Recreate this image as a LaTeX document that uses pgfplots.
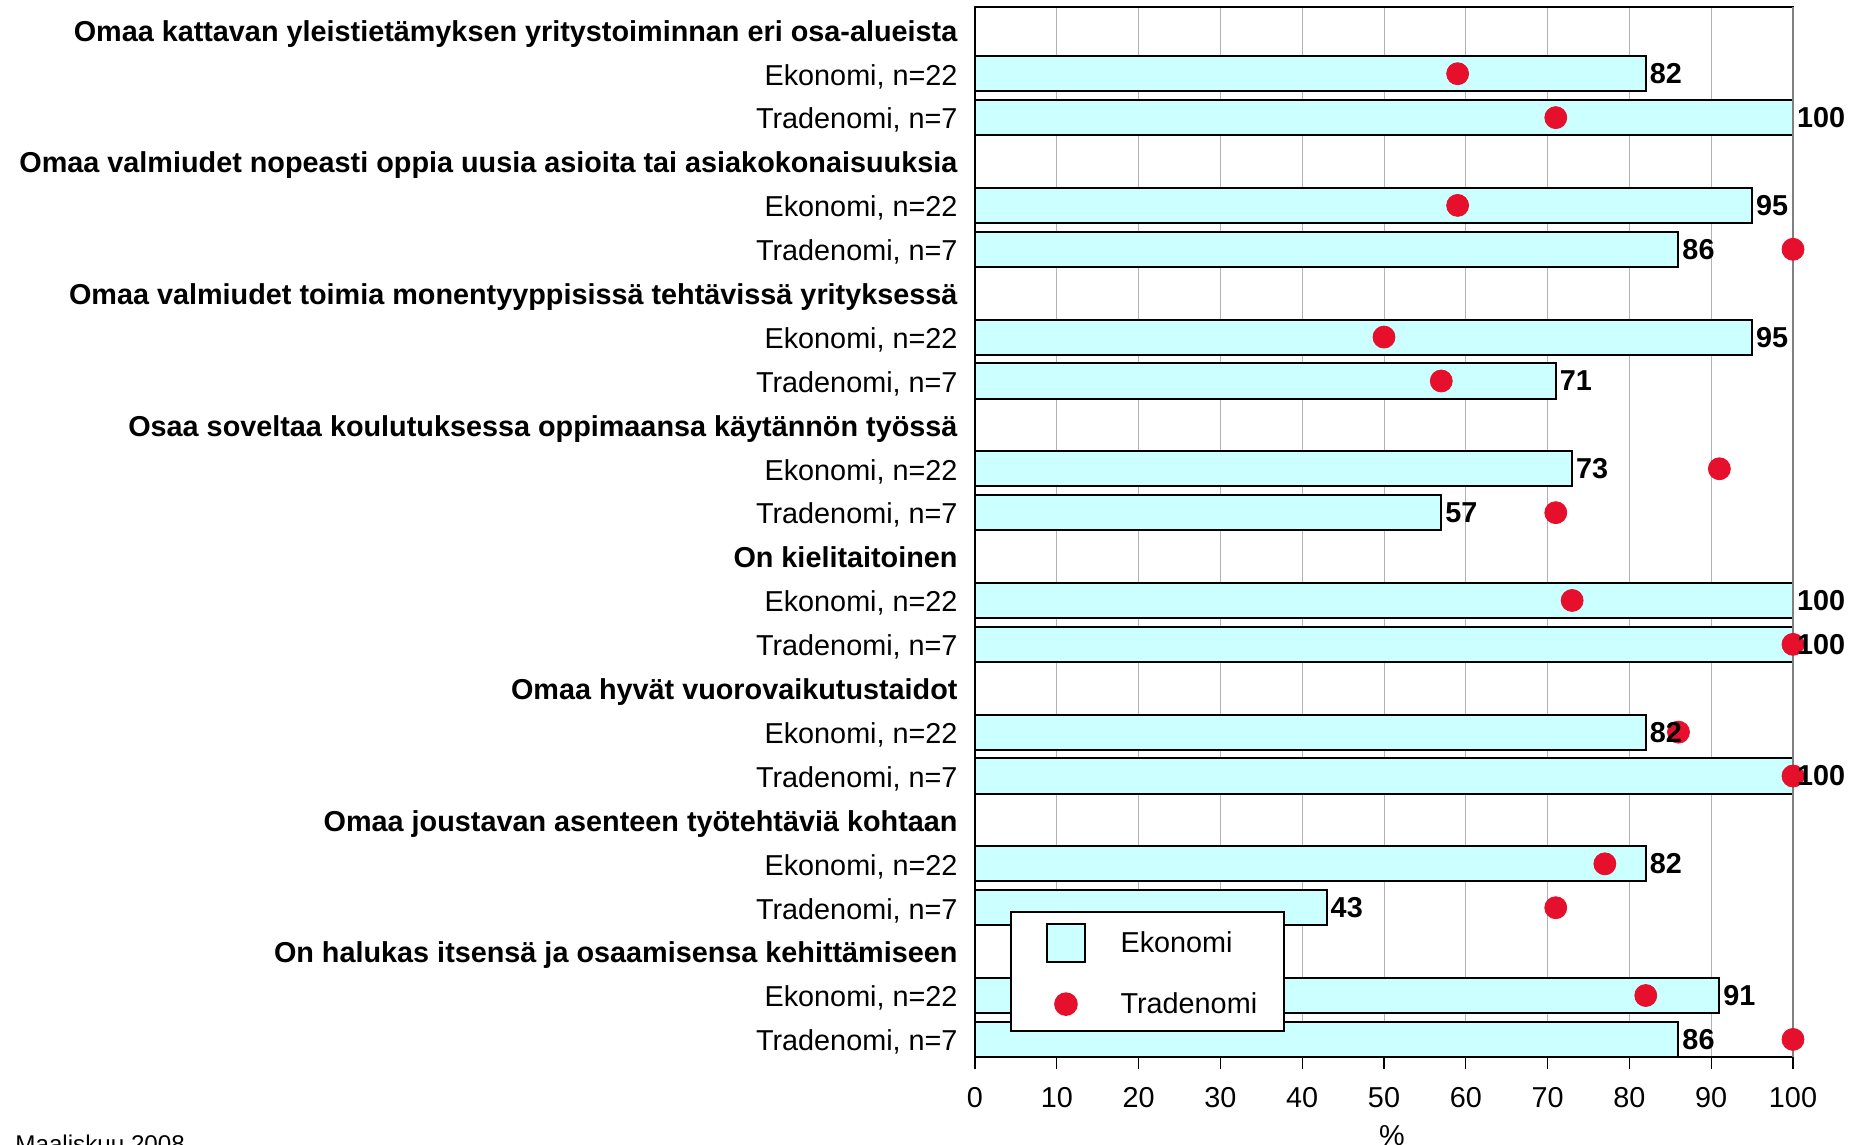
\documentclass[border=0pt]{standalone}
\usepackage{pgfplots}
\pgfplotsset{compat=1.18}
\usepackage{fontspec}
\setmainfont{Liberation Sans}
\definecolor{barfill}{HTML}{CCFFFF}
\definecolor{dotred}{HTML}{E6102D}
\begin{document}
\begin{tikzpicture}[x=0.5pt,y=0.5pt,font=\fontsize{14.4}{17}\selectfont]
\useasboundingbox (0,0) rectangle (1863,1145);
\begin{axis}[
  at={(487.5pt,43.8pt)}, anchor=south west,
  scale only axis, width=409pt, height=525.2pt,
  xmin=0, xmax=100, ymin=-0.52, ymax=23.41, y dir=reverse,
  clip=false,
  xtick={0,10,...,100},
  ytick={0,...,23},
  yticklabels={
    {\textbf{Omaa kattavan yleistietämyksen yritystoiminnan eri osa-alueista}},
    {Ekonomi, n=22},{Tradenomi, n=7},
    {\textbf{Omaa valmiudet nopeasti oppia uusia asioita tai asiakokonaisuuksia}},
    {Ekonomi, n=22},{Tradenomi, n=7},
    {\textbf{Omaa valmiudet toimia monentyyppisissä tehtävissä yrityksessä}},
    {Ekonomi, n=22},{Tradenomi, n=7},
    {\textbf{Osaa soveltaa koulutuksessa oppimaansa käytännön työssä}},
    {Ekonomi, n=22},{Tradenomi, n=7},
    {\textbf{On kielitaitoinen}},
    {Ekonomi, n=22},{Tradenomi, n=7},
    {\textbf{Omaa hyvät vuorovaikutustaidot}},
    {Ekonomi, n=22},{Tradenomi, n=7},
    {\textbf{Omaa joustavan asenteen työtehtäviä kohtaan}},
    {Ekonomi, n=22},{Tradenomi, n=7},
    {\textbf{On halukas itsensä ja osaamisensa kehittämiseen}},
    {Ekonomi, n=22},{Tradenomi, n=7}},
  xmajorgrids,
  major grid style={gray!60, line width=0.5pt},
  axis line style={black, line width=1pt},
  tick align=outside,
  xtick pos=lower,
  major tick length=6pt,
  x tick style={black, line width=0.6pt},
  y tick style={draw=none},
  yticklabel style={xshift=0.8pt, text height=10.3pt, text depth=0pt, yshift=-0.5pt},
  xticklabel style={yshift=-5.4pt},
  /pgf/number format/assume math mode=true,
  ticklabel style={font=\fontsize{14.4}{17}\selectfont},
  legend style={at={(0.043,0.139)}, anchor=north west, draw=black, line width=0.8pt,
    fill=white, inner xsep=11.5pt, inner ysep=5.5pt, row sep=12.5pt, column sep=15.3pt,
    font=\fontsize{14.4}{17}\selectfont, cells={anchor=west}},
]
\addplot[xbar, bar width=0.8, bar shift=0pt, fill=barfill, draw=black, line width=1pt,
  legend image code/.code={\path (0pt,0pt); \draw[fill=barfill, draw=black, line width=1pt] (6pt,-9.5pt) rectangle (25pt,9.5pt);}]
coordinates {(82,1) (100,2) (95,4) (86,5) (95,7) (71,8) (73,10) (57,11) (100,13) (100,14) (82,16) (100,17) (82,19) (43,20) (91,22) (86,23)};
\addlegendentry{Ekonomi}
\draw[gray, line width=1pt] (axis cs:100,-0.52) -- (axis cs:100,23.41);
\addplot[only marks, mark=*, mark size=5.5pt, color=dotred, fill=dotred,
  legend image code/.code={\path (0pt,0pt); \fill[dotred] (15.5pt,0pt) circle (5.5pt);}]
coordinates {(59,1) (71,2) (59,4) (100,5) (50,7) (57,8) (91,10) (71,11) (73,13) (100,14) (86,16) (100,17) (77,19) (71,20) (82,22) (100,23)};
\addlegendentry{Tradenomi}
\addplot[xbar, bar width=0.8, bar shift=0pt, draw=none, fill=none, forget plot,
  point meta=x, nodes near coords,
  nodes near coords style={font=\fontsize{14.4}{17}\selectfont\bfseries, anchor=west, inner xsep=1.8pt, black}]
coordinates {(82,1) (100,2) (95,4) (86,5) (95,7) (71,8) (73,10) (57,11) (100,13) (100,14) (82,16) (100,17) (82,19) (43,20) (91,22) (86,23)};
\end{axis}
\node[anchor=base] at (1392,-1) {\%};
\node[anchor=base west, inner sep=0pt, font=\fontsize{12.1}{14}\selectfont] at (15,-8) {Maaliskuu 2008};
\end{tikzpicture}
\end{document}
